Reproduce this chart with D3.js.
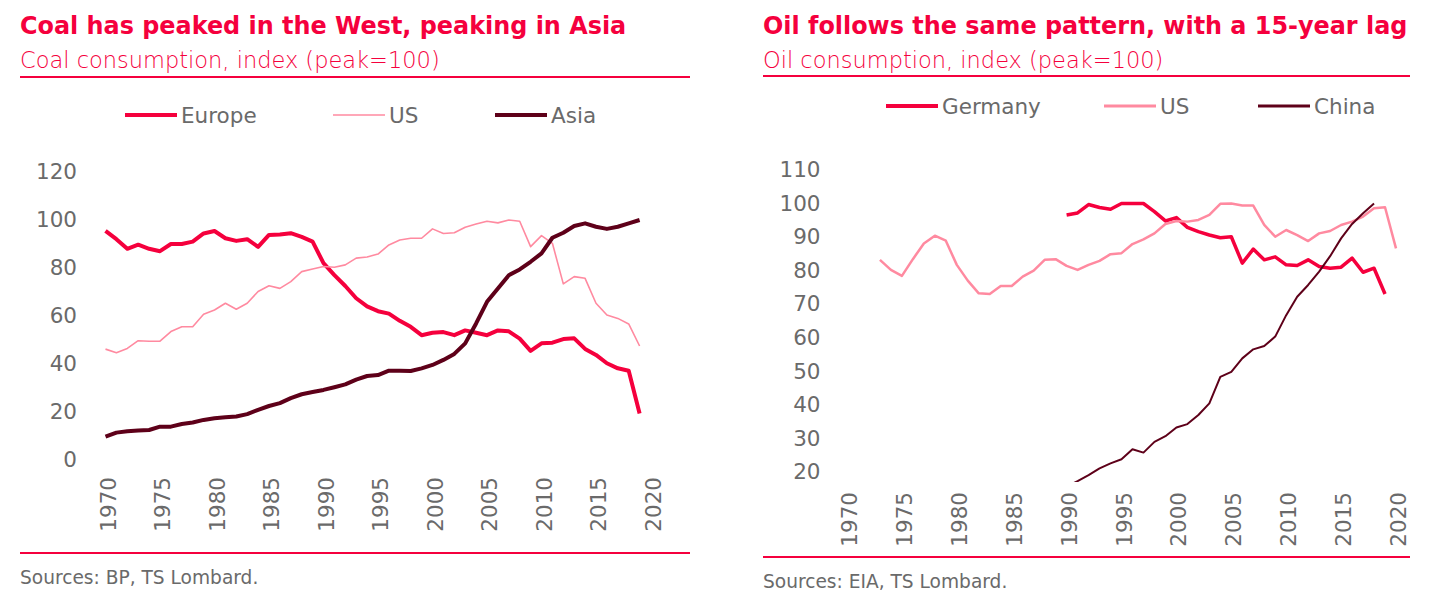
<!DOCTYPE html>
<html>
<head>
<meta charset="utf-8">
<script src="https://cdn.jsdelivr.net/npm/d3@7"></script>
<style>
  body { margin: 0; background: #fff; }
  text { font-family: "DejaVu Sans", Verdana, sans-serif; }
</style>
</head>
<body>
<svg width="1445" height="598"></svg>
<script>
// ---- data ----
const coalYears = d3.range(1970, 2020);
const coalEurope = [95.5, 92, 88, 89.7, 88, 87, 90, 90, 91, 94.4,
  95.4, 92.4, 91.3, 92, 88.8, 93.8, 94, 94.5, 93, 91,
  82, 77, 72.5, 67.4, 64, 62, 61, 58, 55.5, 52,
  53, 53.3, 52, 54, 53, 52, 54, 53.6, 50.6, 45.5,
  48.6, 48.9, 50.4, 50.7, 46.3, 43.8, 40.3, 38.2, 37.2, 19.4];
const coalUS = [46.2, 44.7, 46.5, 49.7, 49.5, 49.5, 53.5, 55.5, 55.5, 60.7,
  62.5, 65.3, 62.8, 65.3, 70.2, 72.6, 71.5, 74.3, 78.5, 79.6,
  80.6, 80.3, 81.3, 84.1, 84.6, 85.8, 89.6, 91.7, 92.4, 92.4,
  96.3, 94.4, 94.7, 97, 98.3, 99.5, 98.8, 100, 99.5, 88.9,
  93.5, 90.3, 73.4, 76.4, 75.7, 65.3, 60.4, 59, 56.7, 47.5];
const coalAsia = [9.7, 11.4, 12, 12.3, 12.5, 13.9, 13.9, 15, 15.6, 16.7,
  17.4, 17.8, 18.1, 19.1, 20.9, 22.5, 23.7, 25.8, 27.4, 28.3,
  29.2, 30.3, 31.5, 33.5, 35, 35.4, 37.2, 37.2, 37.1, 38.2,
  39.6, 41.7, 44.2, 48.6, 56.9, 65.9, 71.5, 77, 79.4, 82.6,
  86.1, 92.6, 94.7, 97.5, 98.6, 97.2, 96.3, 97.2, 98.6, 100];
const coalTicks = [0, 20, 40, 60, 80, 100, 120];

const oilUSYears = d3.range(1973, 2021);
const oilUS = [83.2, 80.2, 78.4, 83.4, 88.1, 90.4, 88.9,
  81.7, 77, 73.2, 73, 75.4, 75.4, 78.2, 80, 83.2, 83.4,
  81.4, 80.2, 81.7, 82.9, 84.9, 85.2, 87.9, 89.3, 91.1, 93.9,
  94.8, 94.6, 95.1, 96.6, 99.9, 100, 99.4, 99.4, 93.6, 90.1,
  92.1, 90.6, 88.8, 91.1, 91.8, 93.6, 94.6, 96.1, 98.6, 98.9,
  86.6];
const oilGermanyYears = d3.range(1990, 2020);
const oilGermany = [96.6, 97.2, 99.7, 98.8, 98.3, 100, 100, 100, 97.6, 94.8,
  95.8, 92.9, 91.6, 90.6, 89.8, 90.1, 82.2, 86.4, 83.2, 84.1,
  81.7, 81.5, 83.2, 81.2, 80.7, 81, 83.7, 79.5, 80.7, 73];
const oilChinaYears = d3.range(1990, 2019);
const oilChina = [15.5, 17.2, 19, 21, 22.5, 23.7, 26.7, 25.7, 28.9, 30.6,
  33.2, 34.2, 36.9, 40.4, 48.3, 49.8, 53.8, 56.5, 57.5, 60.3,
  66.7, 72.2, 75.7, 79.7, 84.3, 89.6, 93.9, 97.1, 100];
const oilTicks = [20, 30, 40, 50, 60, 70, 80, 90, 100, 110];

const yearTicks = [1970, 1975, 1980, 1985, 1990, 1995, 2000, 2005, 2010, 2015, 2020];

// ---- style ----
const RED = "#f5003d", PINK = "#ff8aa0", MAROON = "#5e0019", GREY = "#6a6a6a";

const svg = d3.select("svg");

function drawPanel(p) {
  const g = svg.append("g");

  // titles
  g.append("text").attr("x", p.left).attr("y", 34)
    .attr("fill", RED).attr("font-size", 23.9).attr("font-weight", 700)
    .text(p.title);
  g.append("text").attr("x", p.left).attr("y", 68)
    .attr("fill", RED).attr("font-size", 22.5).attr("font-weight", 200)
    .text(p.subtitle);
  g.append("line").attr("x1", p.left).attr("x2", p.right)
    .attr("y1", p.ruleTop).attr("y2", p.ruleTop)
    .attr("stroke", RED).attr("stroke-width", 2);
  g.append("line").attr("x1", p.left).attr("x2", p.right)
    .attr("y1", p.ruleBottom).attr("y2", p.ruleBottom)
    .attr("stroke", RED).attr("stroke-width", 2);
  g.append("text").attr("x", p.left).attr("y", p.ruleBottom + 31)
    .attr("fill", GREY).attr("font-size", 18.6)
    .text(p.source);

  const x = d3.scaleLinear().domain([1970, 2020]).range(p.xRange);
  const y = d3.scaleLinear().domain(p.yDomain).range(p.yRange);

  // y axis
  const ya = g.append("g").attr("transform", `translate(${p.yLabelX},0)`)
    .call(d3.axisLeft(y).tickValues(p.yTicks).tickSize(0).tickPadding(0));
  ya.select(".domain").remove();
  ya.selectAll("text").attr("fill", GREY).attr("font-size", 21.5)
    .attr("font-family", "'DejaVu Sans', sans-serif");

  // x axis, rotated labels
  g.selectAll(".xl").data(yearTicks).join("text")
    .attr("transform", d => `translate(${x(d) + 2.5},${p.xLabelY}) rotate(-90)`)
    .attr("text-anchor", "end").attr("dy", "0.35em")
    .attr("fill", GREY).attr("font-size", 21.5)
    .text(d => d);

  // clip to plot area
  const clipId = "clip" + p.id;
  g.append("clipPath").attr("id", clipId).append("rect")
    .attr("x", p.xRange[0] - 10).attr("width", p.xRange[1] - p.xRange[0] + 20)
    .attr("y", y(p.yDomain[1])).attr("height", p.clipBottom - y(p.yDomain[1]));

  const line = d3.line().x(d => x(d[0])).y(d => y(d[1]));
  const plot = g.append("g").attr("clip-path", `url(#${clipId})`);
  p.series.forEach(s => {
    plot.append("path")
      .datum(d3.zip(s.years, s.values))
      .attr("d", line)
      .attr("fill", "none").attr("stroke", s.color).attr("stroke-width", s.width)
      .attr("stroke-linejoin", "round");
  });

  // legend
  p.series.forEach((s, i) => {
    const lx = p.legendX[i];
    g.append("line").attr("x1", lx).attr("x2", lx + 52)
      .attr("y1", p.legendY).attr("y2", p.legendY)
      .attr("stroke", s.color).attr("stroke-width", s.legendWidth);
    g.append("text").attr("x", lx + 56).attr("y", p.legendY).attr("dy", "0.36em")
      .attr("fill", GREY).attr("font-size", 21.5)
      .text(s.name);
  });
}

drawPanel({
  id: "coal", left: 20, right: 690, ruleTop: 77, ruleBottom: 553,
  title: "Coal has peaked in the West, peaking in Asia",
  subtitle: "Coal consumption, index (peak=100)",
  source: "Sources: BP, TS Lombard.",
  xRange: [105.5, 650.5], yDomain: [0, 120], yRange: [460, 172],
  yTicks: coalTicks, yLabelX: 77, xLabelY: 477, clipBottom: 470,
  legendX: [125, 333, 495], legendY: 115,
  series: [
    { name: "Europe", years: coalYears, values: coalEurope, color: RED, width: 4, legendWidth: 4 },
    { name: "US", years: coalYears, values: coalUS, color: PINK, width: 1.6, legendWidth: 1.6 },
    { name: "Asia", years: coalYears, values: coalAsia, color: MAROON, width: 4, legendWidth: 4 }
  ]
});

drawPanel({
  id: "oil", left: 763, right: 1410, ruleTop: 76, ruleBottom: 557,
  title: "Oil follows the same pattern, with a 15-year lag",
  subtitle: "Oil consumption, index (peak=100)",
  source: "Sources: EIA, TS Lombard.",
  xRange: [847, 1396], yDomain: [20, 110], yRange: [471.7, 170],
  yTicks: oilTicks, yLabelX: 820.5, xLabelY: 492, clipBottom: 482,
  legendX: [886, 1104, 1258], legendY: 106,
  series: [
    { name: "Germany", years: oilGermanyYears, values: oilGermany, color: RED, width: 3.5, legendWidth: 4 },
    { name: "US", years: oilUSYears, values: oilUS, color: PINK, width: 2.5, legendWidth: 3 },
    { name: "China", years: oilChinaYears, values: oilChina, color: MAROON, width: 2, legendWidth: 3 }
  ]
});
</script>
</body>
</html>
